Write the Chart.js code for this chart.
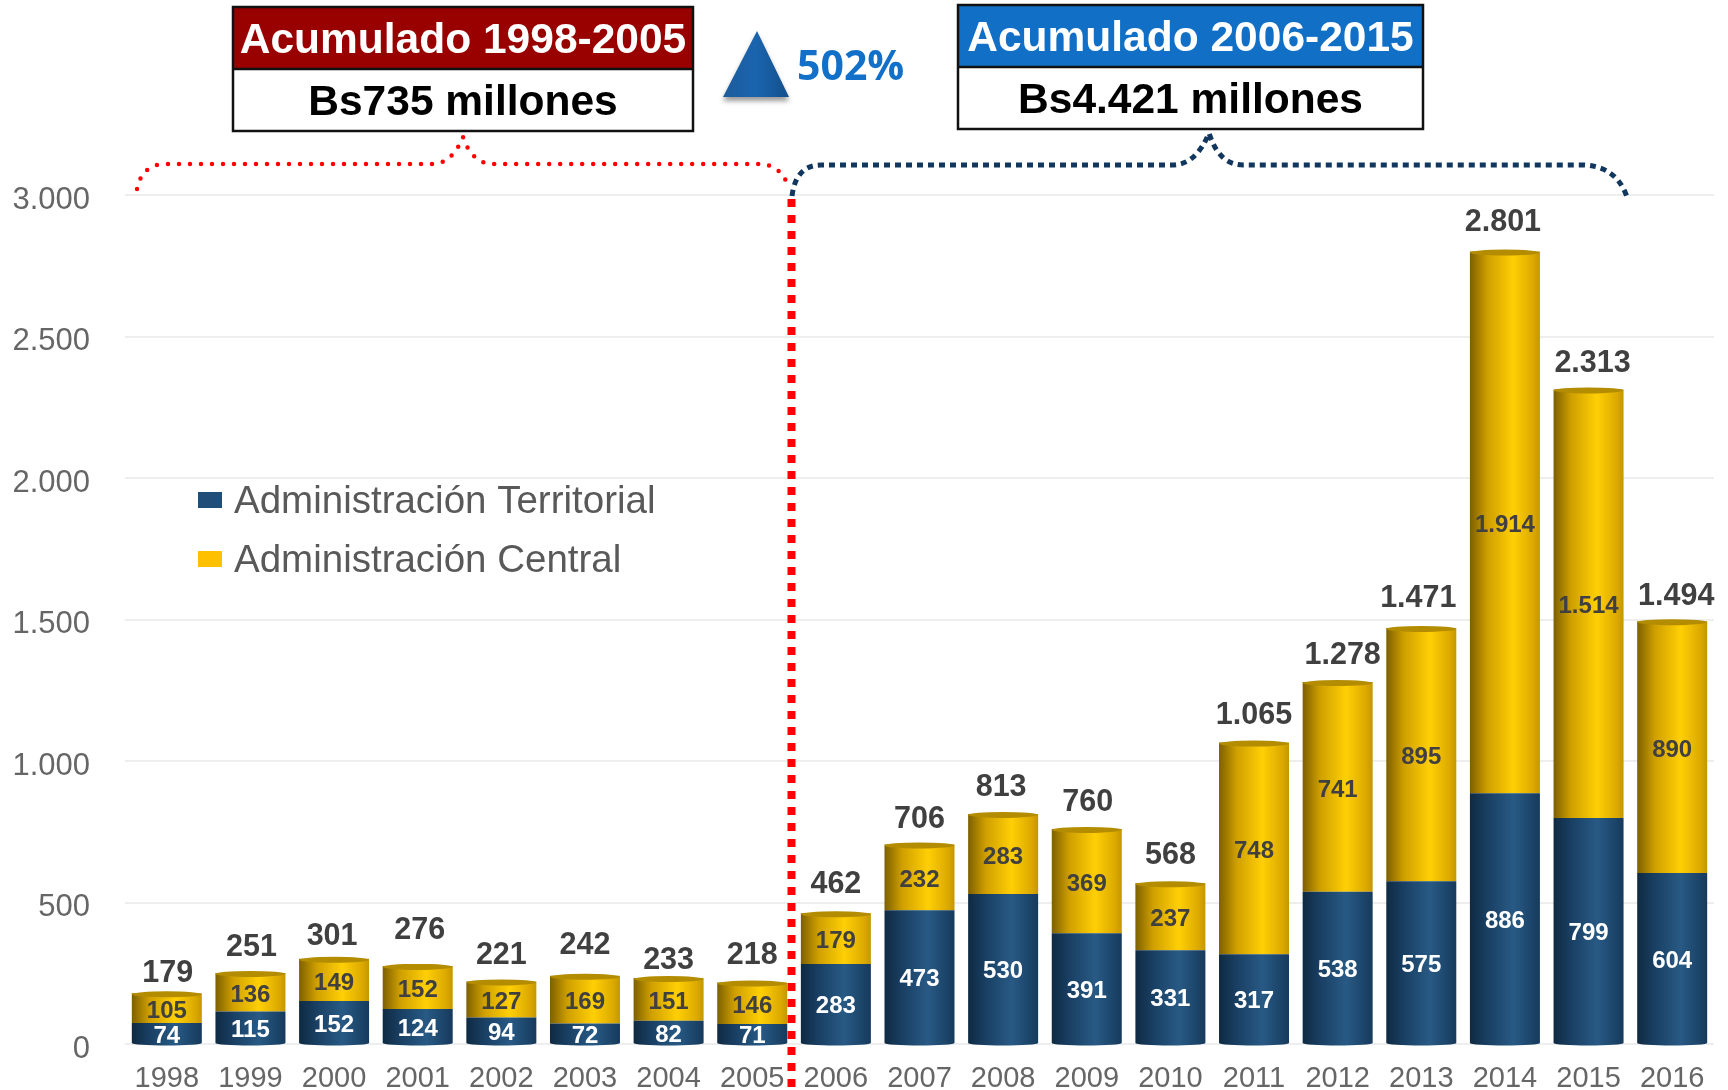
<!DOCTYPE html>
<html>
<head>
<meta charset="utf-8">
<style>
  html, body { margin: 0; padding: 0; background: #fff; }
  canvas { display: block; }
</style>
<script src="https://cdn.jsdelivr.net/npm/chart.js@4"></script>
</head>
<body>
<canvas id="myChart" width="1728" height="1090"></canvas>
<script>
const years = ['1998', '1999', '2000', '2001', '2002', '2003', '2004', '2005', '2006', '2007',
    '2008', '2009', '2010', '2011', '2012', '2013', '2014', '2015', '2016'];
const territorial = [74, 115, 152, 124, 94, 72, 82, 71, 283, 473, 530, 391, 331, 317, 538, 575, 886, 799, 604];
const central = [105, 136, 149, 152, 127, 169, 151, 146, 179, 232, 283, 369, 237, 748, 741, 895, 1914, 1514, 890];
const totals = [179, 251, 301, 276, 221, 242, 233, 218, 462, 706, 813, 760, 568, 1065, 1278, 1471, 2801, 2313, 1494];

const FONT = '"Liberation Sans", Arial, sans-serif';
const BAR_SHARE = 0.837;

// the totals were placed by hand in the original, so they sit a bit unevenly
const totalLift = [20, 25, 22, 35, 26, 30, 17, 27, 29, 25, 26, 26, 28, 27, 26, 29, 29, 26, 25];
const totalShift = [1, 1, -2, 2, 0, 0, 0, 0, 0, 0, -2, 1, 0, 0, 5, -3, -2, 4, 4];

function fmt(n) {
    return String(n).replace(/\B(?=(\d{3})+$)/g, '.');
}

function cylinderFill(stops, solid) {
    return function (context) {
        const chart = context.chart;
        if (!chart.chartArea || context.dataIndex === undefined) return solid;
        const xs = chart.scales.x;
        const half = xs.width / years.length * BAR_SHARE / 2;
        const mid = xs.getPixelForValue(context.dataIndex);
        const g = chart.ctx.createLinearGradient(mid - half, 0, mid + half, 0);
        stops.forEach(s => g.addColorStop(s[0], s[1]));
        return g;
    };
}

const blueStops = [[0, '#0f2a42'], [0.25, '#193f63'], [0.62, '#285a85'], [1, '#163a5c']];
const goldStops = [[0, '#7d6000'], [0.25, '#cf9f00'], [0.62, '#ffcf05'], [0.9, '#dcaa00'], [1, '#c49700']];

// tops, bottoms and the numbers on the bars
const cylinderPlugin = {
    id: 'cylinder',
    afterDatasetsDraw(chart) {
        const ctx = chart.ctx;
        const low = chart.getDatasetMeta(0).data;
        const high = chart.getDatasetMeta(1).data;
        ctx.save();
        low.forEach((bar, i) => {
            const half = bar.width / 2;
            const g = ctx.createLinearGradient(bar.x - half, 0, bar.x + half, 0);
            blueStops.forEach(s => g.addColorStop(s[0], s[1]));
            ctx.fillStyle = g;
            ctx.beginPath();
            ctx.ellipse(bar.x, bar.base, half, 2.5, 0, 0, Math.PI);
            ctx.fill();

            const top = high[i];
            ctx.fillStyle = '#b48c00';
            ctx.beginPath();
            ctx.ellipse(top.x, top.y + 1, half, 3, 0, 0, Math.PI * 2);
            ctx.fill();
        });
        ctx.textAlign = 'center';
        ctx.textBaseline = 'middle';
        low.forEach((bar, i) => {
            const top = high[i];
            ctx.font = 'bold 24px ' + FONT;
            ctx.fillStyle = '#ffffff';
            ctx.fillText(fmt(territorial[i]), bar.x, (bar.y + bar.base) / 2 + 3);
            ctx.fillStyle = '#404040';
            ctx.fillText(fmt(central[i]), top.x, (top.y + top.base) / 2 + 3);
            ctx.font = 'bold 30.5px ' + FONT;
            ctx.fillText(fmt(totals[i]), top.x + totalShift[i], top.y - totalLift[i]);
        });
        ctx.restore();
    }
};

function box(ctx, x, y, w, h, split, color, head, body) {
    ctx.fillStyle = '#ffffff';
    ctx.fillRect(x, y, w, h);
    ctx.fillStyle = color;
    ctx.fillRect(x, y, w, split);
    ctx.strokeStyle = '#111111';
    ctx.lineWidth = 2.5;
    ctx.strokeRect(x, y, w, h);
    ctx.beginPath();
    ctx.moveTo(x, y + split);
    ctx.lineTo(x + w, y + split);
    ctx.stroke();
    ctx.textAlign = 'center';
    ctx.textBaseline = 'middle';
    ctx.font = 'bold 42.5px ' + FONT;
    ctx.fillStyle = '#ffffff';
    ctx.fillText(head, x + w / 2, y + split / 2 + 3);
    ctx.fillStyle = '#000000';
    ctx.fillText(body, x + w / 2, y + split + (h - split) / 2 + 3);
}

// boxes, triangle, brackets, divider and legend
const notesPlugin = {
    id: 'notes',
    afterDraw(chart) {
        const ctx = chart.ctx;
        ctx.save();

        box(ctx, 233, 7, 460, 124, 62, '#990000', 'Acumulado 1998-2005', 'Bs735 millones');
        box(ctx, 958, 5, 465, 124, 62, '#116fc6', 'Acumulado 2006-2015', 'Bs4.421 millones');

        ctx.save();
        ctx.shadowColor = 'rgba(0,0,0,0.4)';
        ctx.shadowBlur = 5;
        ctx.shadowOffsetY = 4;
        const tri = ctx.createLinearGradient(723, 0, 789, 0);
        tri.addColorStop(0, '#1d5c9c');
        tri.addColorStop(0.5, '#1a64ae');
        tri.addColorStop(1, '#134f8b');
        ctx.fillStyle = tri;
        ctx.beginPath();
        ctx.moveTo(757, 31);
        ctx.lineTo(789, 97);
        ctx.lineTo(723, 97);
        ctx.closePath();
        ctx.fill();
        ctx.restore();

        ctx.fillStyle = '#1270c8';
        ctx.font = 'bold 41px "Open Sans", sans-serif';
        ctx.textAlign = 'left';
        ctx.textBaseline = 'middle';
        ctx.fillText('502%', 797, 68);

        // vertical divider
        ctx.strokeStyle = '#ff0000';
        ctx.lineWidth = 8;
        ctx.setLineDash([8, 8]);
        ctx.beginPath();
        ctx.moveTo(791.5, 199);
        ctx.lineTo(791.5, 1090);
        ctx.stroke();

        // red bracket
        ctx.lineWidth = 4.5;
        ctx.lineCap = 'round';
        ctx.setLineDash([0, 11]);
        ctx.beginPath();
        ctx.moveTo(137, 189);
        ctx.quadraticCurveTo(142, 164, 166, 164);
        ctx.lineTo(432, 164);
        ctx.quadraticCurveTo(452, 164, 463, 137);
        ctx.quadraticCurveTo(472, 164, 494, 164);
        ctx.lineTo(758, 164);
        ctx.quadraticCurveTo(782, 164, 789, 189);
        ctx.stroke();

        // navy bracket
        ctx.strokeStyle = '#12375e';
        ctx.lineCap = 'butt';
        ctx.lineWidth = 5;
        ctx.setLineDash([6, 5]);
        ctx.beginPath();
        ctx.moveTo(792, 196);
        ctx.quadraticCurveTo(796, 165, 821, 165);
        ctx.lineTo(1172, 165);
        ctx.quadraticCurveTo(1196, 165, 1209, 133);
        ctx.quadraticCurveTo(1219, 165, 1243, 165);
        ctx.lineTo(1581, 165);
        ctx.quadraticCurveTo(1616, 165, 1627, 197);
        ctx.stroke();
        ctx.setLineDash([]);

        // legend
        const rows = [[chart.data.datasets[0], 500], [chart.data.datasets[1], 559]];
        ctx.font = '38.5px ' + FONT;
        ctx.textAlign = 'left';
        rows.forEach(r => {
            ctx.fillStyle = r[0].legendColor;
            ctx.fillRect(198, r[1] - 8, 24, 16);
            ctx.fillStyle = '#595959';
            ctx.fillText(r[0].label, 234, r[1] + 2);
        });
        ctx.restore();
    }
};

const myChart = new Chart(document.getElementById('myChart').getContext('2d'), {
    type: 'bar',
    data: {
        labels: years,
        datasets: [
            {
                label: 'Administración Territorial',
                data: territorial,
                legendColor: '#1f4e79',
                backgroundColor: cylinderFill(blueStops, '#1f4e79'),
                barPercentage: BAR_SHARE,
                categoryPercentage: 1,
                borderWidth: 0
            },
            {
                label: 'Administración Central',
                data: central,
                legendColor: '#ffc000',
                backgroundColor: cylinderFill(goldStops, '#ffc000'),
                barPercentage: BAR_SHARE,
                categoryPercentage: 1,
                borderWidth: 0
            }
        ]
    },
    options: {
        responsive: false,
        animation: false,
        layout: { padding: { top: 195, right: 14, left: 0, bottom: 0 } },
        plugins: {
            legend: { display: false },
            title: { display: false },
            tooltip: { enabled: false }
        },
        scales: {
            x: {
                stacked: true,
                grid: { display: false },
                border: { display: false },
                ticks: { color: '#666666', font: { family: FONT, size: 29 }, padding: 10, maxRotation: 0, autoSkip: false },
                afterFit(axis) {
                    axis.height = 46;
                    axis.paddingLeft = 0;
                    axis.paddingRight = 0;
                }
            },
            y: {
                stacked: true,
                min: 0,
                max: 3000,
                grid: { color: '#eeeeee', lineWidth: 2, drawTicks: false },
                border: { display: false },
                ticks: {
                    stepSize: 500,
                    color: '#666666',
                    font: { family: FONT, size: 31 },
                    padding: 35,
                    labelOffset: 5,
                    callback: v => fmt(v)
                },
                afterFit(axis) {
                    axis.width = 125;
                    axis.paddingTop = 0;
                    axis.paddingBottom = 0;
                }
            }
        }
    },
    plugins: [cylinderPlugin, notesPlugin]
});
</script>
</body>
</html>
